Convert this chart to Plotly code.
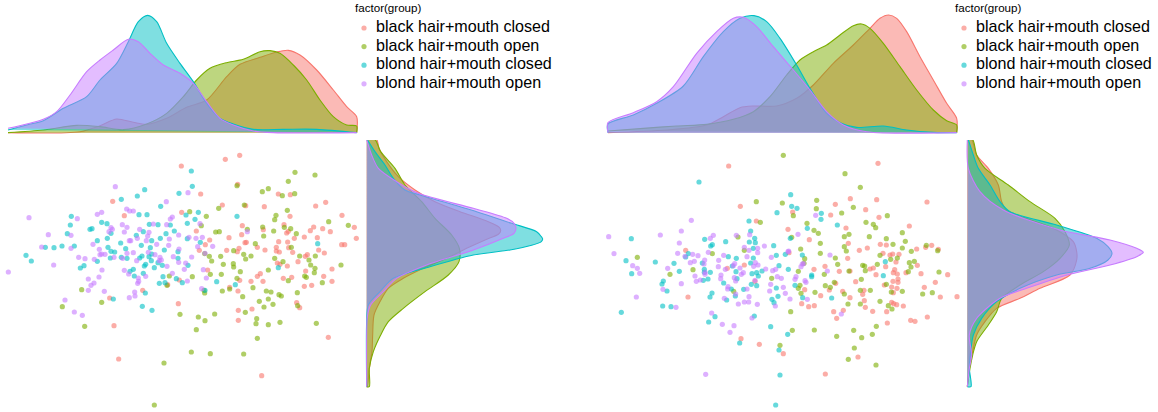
import plotly.graph_objects as go

groups = ["black hair+mouth closed", "black hair+mouth open", "blond hair+mouth closed", "blond hair+mouth open"]
colors = ["#F8766D", "#7CAE00", "#00BFC4", "#C77CFF"]
fills = ["rgba(248,118,109,0.5)", "rgba(124,174,0,0.5)", "rgba(0,191,196,0.5)", "rgba(199,124,255,0.5)"]
dots = ["rgba(248,118,109,0.6)", "rgba(124,174,0,0.6)", "rgba(0,191,196,0.6)", "rgba(199,124,255,0.6)"]
RIGHT_HALF = 540

# Scatter values, panel A (left half, then right half of the plot)
a_black_closed_l = [(338,184),(373,227),(428,451),(329,474),(342,557),(356,657),(503,434),(535,491),(538,420)]
a_black_closed_r = [(136,58),(179,46),(4,78),(173,133),(62,162),(295,162),(331,164),(127,195),(197,197),(253,200),(407,198),(437,187),(5,217),(486,226),(330,229),(187,257),(312,254),(250,269),(401,261),(428,266),(391,272),(451,275),(523,262),(49,273),(185,284),(320,279),(325,274),(147,293),(343,295),(373,291),(412,293),(529,295),(89,300),(195,308),(199,307),(296,305),(323,306),(485,314),(494,314),(76,314),(58,331),(140,331),(177,325),(172,335),(232,322),(255,330),(289,322),(289,333),(298,336),(326,323),(338,337),(416,330),(433,339),(382,344),(376,349),(354,365),(292,369),(300,373),(322,378),(377,393),(456,387),(83,390),(241,401),(232,409),(310,415),(335,412),(431,409),(213,424),(249,424),(179,421),(456,424),(395,436),(373,439),(149,442),(174,453),(350,488),(359,503),(216,507),(175,511),(175,541),(445,592),(245,707)]
a_black_open_l = [(245,449),(187,500),(305,487),(254,559),(492,669),(463,795),(508,408),(501,436),(540,523)]
a_black_open_r = [(345,97),(405,105),(325,124),(171,137),(247,155),(265,146),(307,167),(344,161),(116,205),(193,195),(29,215),(79,229),(322,211),(288,226),(284,239),(64,257),(446,245),(505,256),(248,261),(202,268),(107,276),(118,275),(281,273),(313,262),(332,266),(349,281),(251,288),(226,311),(161,332),(334,322),(74,341),(88,349),(95,363),(122,349),(191,343),(213,348),(197,357),(284,355),(359,348),(406,348),(309,365),(387,360),(392,375),(130,373),(160,371),(161,381),(405,385),(483,375),(181,395),(265,390),(403,398),(37,410),(91,403),(124,403),(171,415),(374,408),(379,412),(325,422),(427,428),(149,447),(127,453),(72,451),(74,459),(219,443),(259,453),(273,456),(352,458),(188,470),(297,464),(304,468),(265,477),(238,484),(279,493),(252,501),(353,497),(196,517),(55,531),(104,522),(75,542),(230,536),(228,551),(265,554),(300,547),(409,550),(49,569),(232,595),(34,636),(91,641),(191,642)]
a_blond_closed_l = [(364,178),(412,168),(434,149),(537,160),(482,199),(417,224),(441,224),(214,229),(211,255),(305,247),(321,251),(448,253),(474,254),(511,255),(202,281),(270,268),(276,266),(333,280),(430,275),(409,286),(523,273),(498,281),(292,302),(322,295),(481,295),(455,302),(136,322),(162,323),(186,318),(223,318),(362,309),(424,316),(324,322),(377,326),(451,323),(333,334),(344,336),(493,330),(78,346),(94,363),(331,354),(364,352),(381,355),(426,348),(419,354),(447,350),(455,342),(534,335),(534,355),(292,364),(252,377),(241,384),(433,378),(437,373),(454,362),(474,368),(487,376),(463,383),(400,388),(390,394),(403,408),(430,400),(489,410),(529,416),(478,430),(495,428),(436,459),(340,477),(427,499),(456,511)]
a_blond_closed_r = [(34,93),(37,139),(55,217),(18,225),(45,238),(22,250),(171,229),(61,307),(22,296),(24,376),(295,383),(7,428),(110,425),(166,434),(75,451),(413,311)]
a_blond_open_l = [(346,140),(499,185),(292,223),(305,217),(380,207),(389,213),(400,213),(87,233),(232,236),(517,231),(511,237),(367,254),(381,262),(460,252),(500,254),(333,263),(337,268),(327,275),(373,276),(419,268),(447,277),(145,284),(213,286),(536,285),(443,288),(412,295),(392,302),(388,302),(439,302),(508,297),(279,313),(470,313),(506,316),(125,321),(213,325),(298,328),(537,327),(381,340),(400,338),(445,337),(465,344),(300,344),(305,342),(315,343),(342,352),(368,355),(410,362),(236,352),(255,356),(283,358),(480,352),(484,360),(478,362),(520,350),(536,367),(161,375),(501,379),(306,390),(373,391),(386,402),(437,409),(517,400),(25,396),(265,417),(297,411),(415,414),(416,424),(413,430),(282,429),(273,436),(265,451),(313,454),(404,456),(405,468),(388,473),(195,480),(223,516),(247,526)]
a_blond_open_r = [(24,158),(60,251),(202,275),(27,292),(48,295),(67,292),(53,320),(98,319),(75,340),(35,351),(17,369),(13,388),(70,389),(79,414),(22,423),(65,446)]

# Scatter values, panel B
b_black_closed_l = [(386,78),(421,199),(469,243),(257,331),(382,385),(433,375),(465,424),(264,471),(423,596),(478,613)]
b_black_closed_r = [(294,70),(211,176),(166,193),(290,179),(441,186),(257,209),(38,216),(152,225),(297,232),(388,258),(24,268),(198,264),(88,299),(205,310),(301,313),(319,315),(455,316),(410,327),(437,322),(475,328),(238,331),(262,324),(27,338),(309,340),(330,345),(338,342),(357,343),(203,355),(348,366),(412,376),(135,379),(102,388),(280,384),(270,387),(317,380),(344,389),(178,394),(210,393),(288,404),(340,398),(352,402),(378,398),(423,401),(503,404),(167,430),(148,450),(227,425),(339,424),(354,417),(354,427),(466,427),(313,435),(335,441),(351,445),(433,442),(74,449),(188,454),(252,451),(248,463),(340,458),(122,467),(210,473),(481,471),(531,470),(253,482),(335,487),(341,491),(350,494),(65,491),(86,500),(103,497),(256,502),(370,498),(190,511),(161,515),(278,514),(320,515),(170,535),(322,549),(392,541),(405,544),(442,531),(10,641),(234,651),(136,702)]
b_black_open_l = [(469,185),(481,247),(414,291),(433,331),(112,352),(337,341),(279,389),(210,403),(515,415),(401,454),(540,616)]
b_black_open_r = [(10,46),(195,101),(241,142),(7,189),(110,181),(109,206),(220,202),(185,219),(40,227),(322,227),(81,250),(258,247),(280,253),(287,263),(102,271),(115,280),(367,278),(193,290),(207,283),(268,290),(35,292),(319,296),(376,304),(121,310),(339,313),(193,320),(62,327),(199,333),(367,324),(394,334),(439,316),(473,332),(121,340),(300,346),(166,354),(74,356),(352,354),(332,358),(173,373),(292,373),(248,376),(254,378),(256,392),(72,370),(388,368),(403,364),(393,381),(385,395),(55,394),(207,393),(477,396),(133,403),(244,418),(163,427),(136,437),(60,436),(55,445),(151,442),(319,433),(241,451),(271,451),(63,460),(105,457),(193,462),(334,456),(367,454),(428,462),(457,458),(204,492),(241,492),(300,484),(325,497),(336,507),(32,515),(37,571),(103,570),(221,571),(170,589),(245,593),(277,583),(289,559),(223,624),(205,658),(288,675)]
b_blond_closed_l = [(297,126),(531,218),(447,243),(452,273),(94,296),(464,295),(448,306),(466,308),(314,298),(377,305),(337,314),(332,318),(521,317),(460,325),(529,346),(385,350),(409,355),(460,354),(78,362),(166,366),(222,370),(257,351),(265,341),(307,369),(452,369),(537,377),(95,401),(238,394),(313,388),(313,397),(331,397),(397,378),(408,395),(486,393),(470,398),(456,401),(475,408),(190,423),(186,432),(324,417),(310,421),(411,416),(371,429),(454,433),(470,437),(529,444),(201,453),(431,448),(394,447),(336,459),(406,468),(330,471),(380,480),(534,469),(516,478),(522,488),(64,517),(188,498),(213,500),(345,530),(463,528),(326,546),(512,560),(419,609),(537,630),(540,705),(527,795)]
b_blond_closed_r = [(32,164),(35,199),(51,205),(124,220),(123,238),(172,255),(82,265),(31,295),(16,343),(67,345),(25,388),(95,405),(95,410),(310,407),(316,365),(45,436),(155,474),(68,473),(23,583)]
b_blond_open_l = [(274,241),(181,285),(244,273),(26,290),(42,341),(238,309),(340,286),(331,295),(409,286),(449,284),(493,318),(433,322),(447,331),(473,325),(473,338),(233,340),(278,343),(294,347),(325,337),(371,346),(441,350),(514,352),(255,349),(356,361),(283,364),(271,368),(314,360),(312,372),(98,377),(112,385),(119,400),(203,385),(355,380),(376,388),(404,371),(400,377),(420,384),(466,368),(461,379),(474,375),(430,398),(424,403),(497,387),(518,392),(527,388),(315,397),(315,403),(363,405),(362,416),(285,408),(289,424),(301,420),(403,413),(407,423),(532,410),(244,431),(465,421),(512,433),(384,440),(383,447),(441,447),(189,448),(509,453),(109,471),(447,470),(373,475),(407,462),(433,486),(446,486),(415,492),(472,493),(526,498),(228,502),(335,519),(456,534),(367,553),(402,557),(390,577),(317,703)]
b_blond_open_r = [(107,226),(54,283),(24,335),(26,333),(150,345),(70,371),(67,372),(63,380),(142,393),(48,410),(4,415),(45,418),(75,422),(78,427),(10,442),(16,460),(82,478),(30,477),(184,522)]

# Top marginal densities (x, density height), panel A
a_top = [
 [(24,0),(240,3),(300,21),(350,41),(400,31),(440,25),(500,43),(560,76),(620,98),(680,168),(720,205),(780,226),(830,242),(865,247),(900,233),(950,188),(1000,128),(1040,78),(1070,48),(1070,0)],
 [(24,0),(130,8),(230,22),(300,18),(370,9),(440,26),(500,58),(550,108),(590,158),(630,193),(680,210),(730,220),(780,243),(810,246),(840,238),(880,203),(920,158),(960,98),(1000,48),(1040,23),(1070,20),(1070,0)],
 [(24,8),(80,23),(130,36),(190,73),(260,108),(300,158),(350,208),(385,273),(415,333),(443,352),(470,333),(500,268),(540,208),(580,153),(620,88),(660,43),(700,26),(760,10),(850,10),(950,10),(1070,0)],
 [(24,13),(80,26),(130,40),(170,63),(210,113),(260,183),(300,218),(340,248),(385,280),(415,273),(450,238),(490,203),(540,178),(580,148),(620,93),(660,43),(700,23),(760,5),(820,0),(1070,0)],
]
# Top marginal densities, panel B
b_top = [
 [(24,0),(200,8),(320,23),(370,48),(420,75),(460,80),(530,80),(590,103),(640,143),(700,208),(760,263),(810,313),(840,343),(866,353),(890,343),(920,303),(960,228),(1000,158),(1040,88),(1070,43),(1070,0)],
 [(24,5),(130,13),(230,20),(320,25),(400,40),(460,63),(510,108),(560,173),(600,218),(640,243),(680,263),(720,293),(760,321),(785,326),(810,313),(850,268),(900,198),(950,128),(1000,68),(1040,36),(1070,23),(1070,0)],
 [(24,0),(24,26),(100,53),(170,88),(250,140),(310,228),(370,303),(420,343),(462,351),(500,333),(540,283),(590,203),(630,133),(680,58),(720,30),(770,16),(850,20),(920,8),(1000,1),(1070,0)],
 [(24,0),(24,30),(100,60),(170,93),(220,138),(290,238),(350,303),(400,343),(430,346),(470,318),(520,258),(580,188),(630,128),(680,63),(730,23),(800,3),(1070,0)],
]
# Right marginal densities (y, density width), panel A
a_side = [
 [(-1,0),(-1,30),(25,37),(65,60),(110,95),(150,145),(185,205),(215,280),(245,365),(262,398),(272,402),(282,396),(300,355),(325,300),(355,240),(385,170),(415,110),(445,65),(485,40),(525,22),(585,18),(635,16),(685,8),(740,2),(740,0)],
 [(-1,0),(-1,25),(35,42),(85,85),(135,115),(185,165),(235,205),(285,255),(325,278),(365,277),(405,245),(455,175),(505,110),(545,65),(585,42),(635,20),(685,8),(740,8),(740,0)],
 [(-1,2),(35,25),(75,55),(115,80),(150,115),(165,160),(215,330),(250,435),(275,510),(290,524),(297,528),(305,524),(316,495),(330,430),(345,320),(380,190),(415,80),(455,40),(495,5),(545,0),(740,0)],
 [(-1,0),(45,15),(85,35),(125,90),(160,155),(205,320),(235,420),(250,442),(263,448),(280,442),(295,410),(330,320),(375,180),(415,90),(455,50),(495,12),(530,2),(585,0),(740,0)],
]
# Right marginal densities, panel B
b_side = [
 [(-1,0),(-1,13),(45,28),(85,63),(135,93),(185,103),(210,118),(265,258),(305,318),(335,328),(360,328),(405,308),(445,218),(475,158),(505,88),(545,53),(585,28),(635,16),(685,6),(740,0)],
 [(-1,0),(-1,16),(45,28),(85,53),(135,123),(185,188),(235,263),(275,293),(315,306),(355,278),(395,228),(435,158),(475,103),(515,88),(555,63),(605,28),(645,16),(685,8),(740,0)],
 [(-1,3),(45,18),(85,33),(135,68),(185,98),(215,128),(255,268),(295,388),(320,422),(340,434),(360,422),(385,368),(405,268),(445,158),(485,88),(535,43),(585,18),(635,10),(685,6),(740,11),(740,0)],
 [(-1,0),(85,3),(155,38),(210,108),(270,278),(300,428),(325,508),(337,528),(350,508),(375,428),(405,300),(445,178),(475,98),(535,28),(585,6),(645,13),(685,6),(740,0)],
]

W, H = 1158, 412
fig = go.Figure()

def add_panel(domain_x, side_domain, scatter, top, side, side_zero, ids):
    ax = {"visible": False, "fixedrange": True}
    a, b, c = ids
    fig.update_layout(**{
        f"xaxis{a}": dict(domain=domain_x, range=[0, 1080], anchor=f"y{a}", **ax),
        f"yaxis{a}": dict(domain=[0, 272/412], range=[816, 0], anchor=f"x{a}", **ax),
        f"xaxis{b}": dict(domain=domain_x, range=[0, 1080], anchor=f"y{b}", **ax),
        f"yaxis{b}": dict(domain=[272/412, 1], range=[-22, 398], anchor=f"x{b}", **ax),
        f"xaxis{c}": dict(domain=side_domain, range=[side_zero, 570 + side_zero], anchor=f"y{c}", **ax),
        f"yaxis{c}": dict(domain=[0, 272/412], range=[816, 0], anchor=f"x{c}", **ax),
    })
    for i, name in enumerate(groups):
        pts = scatter[i][0] + [(x + RIGHT_HALF, y) for x, y in scatter[i][1]]
        fig.add_trace(go.Scatter(x=[p[0] for p in pts], y=[p[1] for p in pts], mode="markers",
                                 marker=dict(size=5.2, color=dots[i], line=dict(width=0)),
                                 name=name, showlegend=False,
                                 xaxis=f"x{a}", yaxis=f"y{a}", hoverinfo="skip"))
    for i in range(4):
        fig.add_trace(go.Scatter(x=[p[0] for p in top[i]], y=[p[1] for p in top[i]], mode="lines",
                                 line=dict(color=colors[i], width=1.1, shape="spline", smoothing=0.8),
                                 fill="toself", fillcolor=fills[i], showlegend=False,
                                 xaxis=f"x{b}", yaxis=f"y{b}", hoverinfo="skip"))
    for i in range(4):
        fig.add_trace(go.Scatter(x=[p[1] for p in side[i]], y=[p[0] for p in side[i]], mode="lines",
                                 line=dict(color=colors[i], width=1.1, shape="spline", smoothing=0.8),
                                 fill="toself", fillcolor=fills[i], showlegend=False,
                                 xaxis=f"x{c}", yaxis=f"y{c}", hoverinfo="skip"))

add_panel([0, 360/W], [360/W, 550/W],
          [(a_black_closed_l, a_black_closed_r), (a_black_open_l, a_black_open_r),
           (a_blond_closed_l, a_blond_closed_r), (a_blond_open_l, a_blond_open_r)],
          a_top, a_side, -20, ("", 2, 3))
add_panel([600/W, 960/W], [960/W, 1150/W],
          [(b_black_closed_l, b_black_closed_r), (b_black_open_l, b_black_open_r),
           (b_blond_closed_l, b_blond_closed_r), (b_blond_open_l, b_blond_open_r)],
          b_top, b_side, -22, (4, 5, 6))

# Key: one row per group, drawn on its own small category axis
def add_key(left, axis_id):
    ax = {"visible": False, "fixedrange": True}
    fig.update_layout(**{
        f"xaxis{axis_id}": dict(domain=[left/W, (left + 200)/W], range=[0, 200], anchor=f"y{axis_id}", **ax),
        f"yaxis{axis_id}": dict(domain=[1 - 93.1/H, 1 - 18.7/H], range=[3.5, -0.5], type="category",
                                categoryorder="array", categoryarray=groups, anchor=f"x{axis_id}", **ax),
    })
    fig.add_trace(go.Scatter(x=[9] * 4, y=groups, mode="markers",
                             marker=dict(size=5.2, color=dots, line=dict(width=0)), showlegend=False,
                             xaxis=f"x{axis_id}", yaxis=f"y{axis_id}", hoverinfo="skip"))
    fig.add_trace(go.Scatter(x=[21] * 4, y=groups, mode="text", text=groups, textposition="middle right",
                             textfont=dict(family="Liberation Sans", size=16.1, color="black"), showlegend=False,
                             cliponaxis=False, xaxis=f"x{axis_id}", yaxis=f"y{axis_id}", hoverinfo="skip"))

add_key(355, 7)
add_key(955, 8)

title_font = dict(family="Liberation Sans", size=11.6, color="black")
fig.update_layout(
    width=W, height=H, margin=dict(l=0, r=0, t=0, b=0, pad=0),
    paper_bgcolor="white", plot_bgcolor="rgba(0,0,0,0)",
    annotations=[
        dict(text="factor(group)", x=353/W, y=1 - 8/H, xref="paper", yref="paper", xanchor="left", yanchor="middle",
             showarrow=False, font=title_font),
        dict(text="factor(group)", x=953/W, y=1 - 8/H, xref="paper", yref="paper", xanchor="left", yanchor="middle",
             showarrow=False, font=title_font),
    ],
)
fig.write_html("out.html", config={"displayModeBar": False}, post_script="document.body.style.margin='0';")
